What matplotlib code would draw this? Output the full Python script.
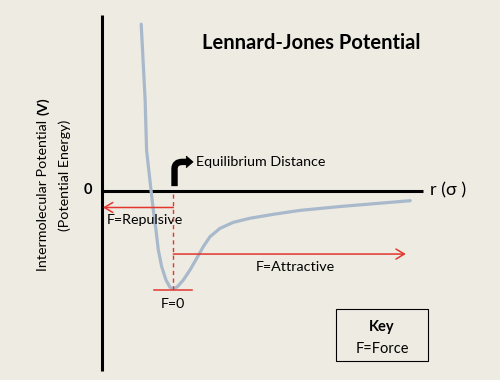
import matplotlib
matplotlib.use("Agg")
import matplotlib.pyplot as plt
from matplotlib.patches import Rectangle, PathPatch, Polygon
from matplotlib.path import Path

# ---- data ----
r_vals = [0.80, 0.88, 0.91, 1.00, 1.047, 1.102, 1.149, 1.218, 1.306, 1.388, 1.455, 1.537,
          1.659, 1.796, 1.933, 2.067, 2.204, 2.408, 2.680, 3.020, 3.50, 4.04, 4.86, 6.29]
V_vals = [1.72, 0.94, 0.42, 0.01, -0.196, -0.402, -0.608, -0.780, -0.918, -0.993, -1.010, -0.987,
          -0.918, -0.814, -0.694, -0.574, -0.471, -0.385, -0.323, -0.281, -0.24, -0.20, -0.16, -0.10]
r_eq = 1.455          # equilibrium distance
V_min = -1.01         # well depth
V_repulsive = -0.17   # level of repulsive-force arrow
V_attractive = -0.65  # level of attractive-force arrow
title = "Lennard-Jones Potential"

BG = "#EEEBE2"
CURVE = "#A9B9CC"
RED = "#E2362E"
FONT = ["Lato", "DejaVu Sans"]
plt.rcParams["font.family"] = FONT

fig = plt.figure(figsize=(5.0, 3.8), dpi=100, facecolor=BG)
ax = fig.add_axes([0, 0, 1, 1])
ax.set_facecolor(BG)
ax.set_xlim(-102 / 49, 398 / 49)
ax.set_ylim(-189 / 97, 191 / 97)
ax.axis("off")

# axes lines
ax.plot([0, 0], [-1.853, 1.814], color="black", lw=2.2, solid_capstyle="butt")
ax.plot([0, 6.55], [0, 0], color="black", lw=2.2, solid_capstyle="butt")

# potential curve
ax.plot(r_vals, V_vals, color=CURVE, lw=2.3, solid_joinstyle="round", solid_capstyle="round", zorder=3)

# red guides
ax.plot([r_eq, r_eq], [-0.03, V_min], color=RED, lw=1.0, ls=(0, (3, 2.5)), zorder=4)
ax.plot([r_eq - 0.40, r_eq + 0.38], [V_min - 0.015, V_min - 0.015], color=RED, lw=1.1, zorder=4)
ax.annotate("", xy=(0.02, V_repulsive), xytext=(r_eq, V_repulsive),
            arrowprops=dict(arrowstyle="->,head_length=0.5,head_width=0.3", color=RED, lw=1.1,
                            shrinkA=0, shrinkB=0, mutation_scale=12), zorder=4)
ax.annotate("", xy=(6.20, V_attractive), xytext=(r_eq, V_attractive),
            arrowprops=dict(arrowstyle="->,head_length=0.5,head_width=0.3", color=RED, lw=1.1,
                            shrinkA=0, shrinkB=0, mutation_scale=12), zorder=4)

# bent black arrow
xs = r_eq + 0.025
verts = [(xs, 0.05), (xs, 0.23), (xs, 0.30), (1.64, 0.30), (1.76, 0.30)]
codes = [Path.MOVETO, Path.LINETO, Path.CURVE3, Path.CURVE3, Path.LINETO]
ax.add_patch(PathPatch(Path(verts, codes), fill=False, lw=4.6, edgecolor="black",
                       capstyle="butt", joinstyle="round", zorder=5))
ax.add_patch(Polygon([(1.72, 0.36), (1.72, 0.24), (1.86, 0.30)], closed=True,
                     facecolor="black", edgecolor="black", lw=0.5, zorder=5))

# texts
ax.text(4.276, 1.529, title, ha="center", va="center", fontsize=14.5, fontweight="bold")
ax.text(1.918, 0.30, "Equilibrium Distance", ha="left", va="center", fontsize=10.3)
ax.text(0.102, -0.299, "F=Repulsive", ha="left", va="center", fontsize=10.3)
ax.text(3.137, -0.780, "F=Attractive", ha="left", va="center", fontsize=10.3)
ax.text(1.449, -1.165, "F=0", ha="center", va="center", fontsize=10.3)
ax.text(-0.286, 0.01, "0", ha="center", va="center", fontsize=10.5, fontweight="bold")
ax.text(6.70, 0.01, "r (σ )", ha="left", va="center", fontsize=13)

# y label
ax.text(-1.204, -0.041, "Intermolecular Potential", rotation=90, ha="center", va="center", fontsize=10.3)
ax.text(-1.204, 0.871, "(V)", rotation=90, ha="center", va="center", fontsize=10.3, fontweight="bold")
ax.text(-0.755, 0.165, "(Potential Energy)", rotation=90, ha="center", va="center", fontsize=10.3)

# key box
ax.add_patch(Rectangle((4.776, -1.7495), 6.653 - 4.776, -1.2196 + 1.7495,
                       facecolor=BG, edgecolor="black", lw=0.8, zorder=5))
ax.text(5.714, -1.402, "Key", ha="center", va="center", fontsize=10.5, fontweight="bold", zorder=6)
ax.text(5.714, -1.629, "F=Force", ha="center", va="center", fontsize=10.5, zorder=6)

fig.savefig("out.png", dpi=100, facecolor=BG)
